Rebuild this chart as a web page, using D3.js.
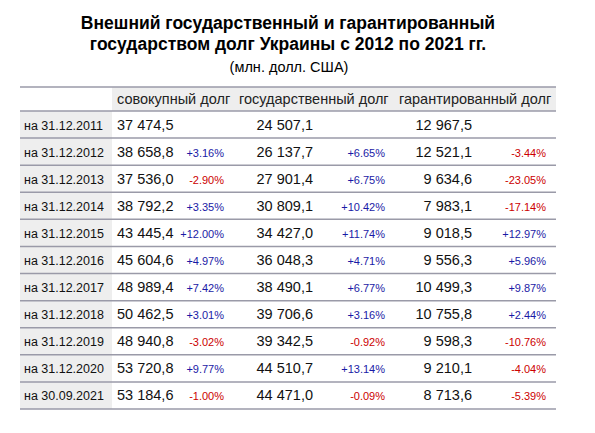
<!DOCTYPE html><html><head><meta charset="utf-8">
<script src="https://cdn.jsdelivr.net/npm/d3@7"></script>
<style>body{margin:0;background:#fff}</style></head><body>
<svg id="c" width="595" height="433"></svg>
<script>
const dates=["на 31.12.2011","на 31.12.2012","на 31.12.2013","на 31.12.2014","на 31.12.2015","на 31.12.2016","на 31.12.2017","на 31.12.2018","на 31.12.2019","на 31.12.2020","на 30.09.2021"];
const totalDebt=["37 474,5","38 658,8","37 536,0","38 792,2","43 445,4","45 604,6","48 989,4","50 462,5","48 940,8","53 720,8","53 184,6"];
const totalPct=["","+3.16%","-2.90%","+3.35%","+12.00%","+4.97%","+7.42%","+3.01%","-3.02%","+9.77%","-1.00%"];
const govDebt=["24 507,1","26 137,7","27 901,4","30 809,1","34 427,0","36 048,3","38 490,1","39 706,6","39 342,5","44 510,7","44 471,0"];
const govPct=["","+6.65%","+6.75%","+10.42%","+11.74%","+4.71%","+6.77%","+3.16%","-0.92%","+13.14%","-0.09%"];
const guarDebt=["12 967,5","12 521,1","9 634,6","7 983,1","9 018,5","9 556,3","10 499,3","10 755,8","9 598,3","9 210,1","8 713,6"];
const guarPct=["","-3.44%","-23.05%","-17.14%","+12.97%","+5.96%","+9.87%","+2.44%","-10.76%","-4.04%","-5.39%"];
const headers=["совокупный долг","государственный долг","гарантированный долг"];
const titleLines=["Внешний государственный и гарантированный","государством долг Украины с 2012 по 2021 гг."];
const subtitle="(млн. долл. США)";

const svg=d3.select("#c"),F="Liberation Sans, Arial, sans-serif";
const y=d3.scaleBand().domain(d3.range(dates.length)).range([111,409]).padding(0);
svg.selectAll("text.t").data(titleLines).join("text").attr("x",288).attr("y",(d,i)=>29+i*21)
 .attr("text-anchor","middle").attr("font-family",F).attr("font-weight","bold").attr("font-size",17.5).text(d=>d);
svg.append("text").attr("x",289).attr("y",72).attr("text-anchor","middle").attr("font-family",F).attr("font-size",14.5).text(subtitle);
svg.append("rect").attr("x",112).attr("y",87).attr("width",444).attr("height",24).attr("fill","#eeeeee");
svg.append("rect").attr("x",20).attr("y",111).attr("width",92).attr("height",298).attr("fill","#eeeeee");
svg.append("line").attr("x1",20).attr("x2",556).attr("y1",87).attr("y2",87).attr("stroke","#9a9aa8").attr("stroke-width",1.5);
const hx=[117,239,399];
svg.selectAll("text.h").data(headers).join("text").attr("x",(d,i)=>hx[i]).attr("y",104)
 .attr("font-family",F).attr("font-size",14.5).attr("fill","#222").text(d=>d);
const rows=svg.selectAll("g.r").data(dates).join("g").attr("transform",(d,i)=>`translate(0,${y(i)})`);
rows.append("line").attr("x1",20).attr("x2",556).attr("y1",0).attr("y2",0).attr("stroke","#9a9aa8").attr("stroke-width",1.5);
const h=y.bandwidth(),by=h/2+5;
const T=(g,x,fn,anchor,size,col)=>g.append("text").attr("x",x).attr("y",by).attr("text-anchor",anchor)
 .attr("font-family",F).attr("font-size",size).attr("fill",col||"#111").text(fn);
T(rows,24,d=>d,"start",12.5);
T(rows,117,(d,i)=>totalDebt[i],"start",14.5);
const pc=s=>s.startsWith("-")?"#cc0000":"#1a1aa6";
rows.each(function(d,i){const g=d3.select(this);
 T(g,224,totalPct[i],"end",11,pc(totalPct[i]));
 T(g,313,govDebt[i],"end",14.5);
 T(g,385,govPct[i],"end",11,pc(govPct[i]));
 T(g,472,guarDebt[i],"end",14.5);
 T(g,546,guarPct[i],"end",11,pc(guarPct[i]));});
svg.append("line").attr("x1",20).attr("x2",556).attr("y1",409).attr("y2",409).attr("stroke","#9a9aa8").attr("stroke-width",1.5);
</script></body></html>
